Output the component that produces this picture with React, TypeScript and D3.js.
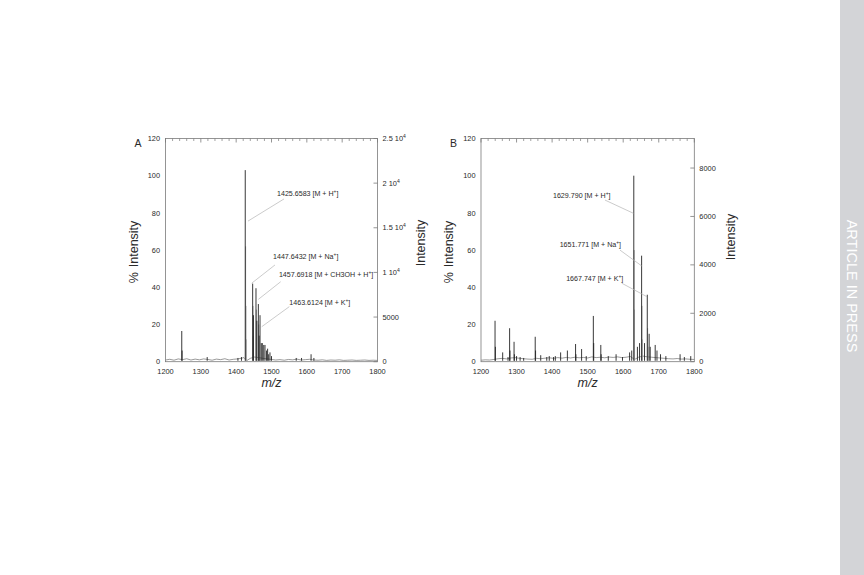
import React from 'react';
import * as d3 from 'd3';

// ---------- data ----------
const xTicks = [1200, 1300, 1400, 1500, 1600, 1700, 1800];
const pctTicks = [0, 20, 40, 60, 80, 100, 120];

const rightTicksA = [0, 5000, 10000, 15000, 20000, 25000];
const rightLabelA = ['0', '5000', '1 10', '1.5 10', '2 10', '2.5 10'];
const rightSupA = ['', '', '4', '4', '4', '4'];
const rightMaxA = 25000;

const rightTicksB = [0, 2000, 4000, 6000, 8000];
const rightLabelB = ['0', '2000', '4000', '6000', '8000'];
const rightMaxB = 9220;

// Panel A spectrum (m/z, % intensity)
const peakMzA = [1246, 1247, 1318, 1405, 1415, 1425.7, 1446.7, 1449, 1456.1, 1458.5, 1462.8, 1465, 1467.5, 1471, 1474, 1478, 1481.6, 1486, 1489, 1492, 1495.7, 1500, 1570, 1585, 1612, 1620];
const peakPctA = [16.5, 6, 2.5, 2, 2.5, 103, 42, 25, 39.5, 22, 31, 14, 25, 10, 10, 9, 9, 6, 7, 4, 5, 3, 2, 2, 4, 2];
const isoMzA = [1426.7, 1427.7, 1428.7, 1447.7, 1448.7, 1457.2, 1463.8];
const isoPctA = [62, 30, 12, 30, 14, 28, 20];
const noiseMzA = [1200, 1212, 1224, 1236, 1248, 1260, 1272, 1284, 1296, 1308, 1320, 1332, 1344, 1356, 1368, 1380, 1392, 1404, 1416, 1422, 1430, 1440, 1452, 1464, 1476, 1488, 1500, 1512, 1524, 1536, 1548, 1560, 1572, 1584, 1596, 1608, 1620, 1632, 1644, 1656, 1668, 1680, 1692, 1704, 1716, 1728, 1740, 1752, 1764, 1776, 1788, 1800];
const noisePctA = [0.9, 1.3, 0.8, 1.5, 1.1, 1.6, 0.9, 1.4, 1.0, 1.5, 1.2, 0.8, 1.4, 1.1, 1.6, 0.9, 1.3, 1.5, 1.9, 2.2, 0.6, 1.8, 2.5, 2.2, 1.8, 1.5, 1.2, 0.9, 1.1, 0.8, 1.2, 1.0, 1.4, 0.9, 1.1, 1.3, 0.9, 0.8, 1.0, 0.7, 0.9, 0.8, 1.0, 0.7, 0.8, 0.9, 0.7, 0.8, 0.9, 0.7, 0.8, 0.7];

// Panel B spectrum
const peakMzB = [1239.5, 1240.5, 1261, 1276, 1280.5, 1281.5, 1293, 1294, 1300, 1310, 1320, 1352.5, 1353.5, 1368, 1385, 1392, 1404, 1409, 1424, 1443, 1466, 1467, 1483, 1496, 1516, 1517, 1537, 1538, 1558, 1580, 1598, 1618, 1624, 1629.8, 1640, 1646, 1651.8, 1660, 1667.7, 1673, 1676, 1690, 1695, 1705, 1720, 1760, 1772, 1790];
const peakPctB = [22, 8, 5, 2.5, 18, 6, 10.7, 4, 3, 2.5, 2, 13.4, 6, 3.5, 2.5, 3, 2.5, 3, 5, 6, 9.5, 4, 6.8, 3, 24.6, 10, 9, 4, 3, 4, 2.5, 5, 6, 100, 8, 10, 57, 10, 36, 15, 8, 9, 6, 4, 3, 4, 2.5, 3];
const isoMzB = [1630.8, 1631.8, 1652.8, 1653.8, 1668.7, 1669.7];
const isoPctB = [60, 28, 30, 12, 18, 8];
const noiseMzB = [1200, 1212, 1224, 1236, 1248, 1260, 1272, 1284, 1296, 1308, 1320, 1332, 1344, 1356, 1368, 1380, 1392, 1404, 1416, 1428, 1440, 1452, 1464, 1476, 1488, 1500, 1512, 1524, 1536, 1548, 1560, 1572, 1584, 1596, 1608, 1620, 1632, 1644, 1656, 1668, 1680, 1692, 1704, 1716, 1728, 1740, 1752, 1764, 1776, 1788, 1800];
const noisePctB = [0.8, 1.0, 0.9, 1.2, 1.6, 1.8, 1.5, 2.0, 2.2, 1.8, 1.6, 1.4, 1.3, 1.8, 1.6, 1.9, 2.1, 1.8, 2.2, 1.9, 2.3, 2.0, 2.4, 2.1, 2.3, 2.0, 2.6, 2.2, 2.4, 2.1, 2.5, 2.3, 2.6, 2.2, 2.4, 2.8, 1.2, 2.5, 3.0, 2.6, 2.4, 2.2, 2.0, 1.8, 1.6, 1.5, 1.7, 1.4, 1.5, 1.3, 1.2];

// Annotations: label text anchor (m/z, %), leader from (m/z, %) to (m/z, %)
const annTextA = ['1425.6583 [M + H', '1447.6432 [M + Na', '1457.6918 [M + CH3OH + H', '1463.6124 [M + K'];
const annTxtMzA = [1515.6, 1504.3, 1521, 1550.4];
const annTxtPctA = [89, 55.2, 45.5, 30.6];
const annFromMzA = [1433.5, 1444, 1462.7, 1472.3];
const annFromPctA = [75.6, 42.2, 33.5, 18.8];
const annToMzA = [1535.4, 1509.8, 1526, 1550.4];
const annToPctA = [87.5, 52, 43, 29.6];

const annTextB = ['1629.790 [M + H', '1651.771 [M + Na', '1667.747 [M + K'];
const annTxtMzB = [1402.5, 1594, 1600];
const annTxtPctB = [88, 61.7, 43.4];
const annFromMzB = [1548.8, 1591, 1596];
const annFromPctB = [86.9, 60, 42.2];
const annToMzB = [1628.6, 1652, 1666.3];
const annToPctB = [79.8, 51.5, 35];

const FONT = '"Liberation Sans", Arial, Helvetica, sans-serif';

type PanelProps = {
  left: number; right: number; top: number; bottom: number;
  letter: string;
  peakMz: number[]; peakPct: number[];
  isoMz: number[]; isoPct: number[];
  noiseMz: number[]; noisePct: number[];
  rTicks: number[]; rLabels: string[]; rSups: string[]; rMax: number;
  annText: string[]; annTxtMz: number[]; annTxtPct: number[]; annAnchorEnd?: boolean[];
  annFromMz: number[]; annFromPct: number[]; annToMz: number[]; annToPct: number[];
  leftTitleY: number; rightTitleY: number; rightTitleX: number; leftTitleX: number;
};

function Panel(p: PanelProps) {
  const x = d3.scaleLinear().domain([1200, 1800]).range([p.left, p.right]);
  const y = d3.scaleLinear().domain([0, 120]).range([p.bottom, p.top]);
  const yr = d3.scaleLinear().domain([0, p.rMax]).range([p.bottom, p.top]);
  const minor = d3.range(1200, 1801, 20).filter((v) => v % 100 !== 0);
  const axisColor = '#7a7a7a';
  const textColor = '#2a2a2a';
  const noiseLine = d3.line<number>().x((d, i) => x(p.noiseMz[i])).y((d) => y(d));
  const midX = (p.left + p.right) / 2;
  return (
    <g>
      <path d={noiseLine(p.noisePct) || ''} fill="none" stroke="#555" strokeWidth={0.6} />
      {p.isoMz.map((m, i) => (
        <line key={'i' + i} x1={x(m)} x2={x(m)} y1={y(0.5)} y2={y(p.isoPct[i])} stroke="#9a9a9a" strokeWidth={0.9} />
      ))}
      {p.peakMz.map((m, i) => (
        <line key={'p' + i} x1={x(m)} x2={x(m)} y1={y(0.5)} y2={y(p.peakPct[i])} stroke="#222" strokeWidth={0.9} />
      ))}
      <rect x={p.left} y={p.top} width={p.right - p.left} height={p.bottom - p.top} fill="none" stroke={axisColor} strokeWidth={0.8} />
      {xTicks.map((t) => (
        <line key={'tt' + t} x1={x(t)} x2={x(t)} y1={p.top} y2={p.top + 4} stroke={axisColor} strokeWidth={0.8} />
      ))}
      {minor.map((t) => (
        <line key={'tm' + t} x1={x(t)} x2={x(t)} y1={p.top} y2={p.top + 2.5} stroke={axisColor} strokeWidth={0.7} />
      ))}
      {xTicks.map((t) => (
        <text key={'bl' + t} x={x(t)} y={p.bottom + 12.5} fontSize={7.4} textAnchor="middle" fill={textColor} fontFamily={FONT}>{t}</text>
      ))}
      {pctTicks.map((t) => (
        <text key={'ll' + t} x={p.left - 5.5} y={y(t) + 2.6} fontSize={7.4} textAnchor="end" fill={textColor} fontFamily={FONT}>{t}</text>
      ))}
      {p.rTicks.map((t, i) => (
        <g key={'r' + t}>
          <line x1={p.right - 4} x2={p.right} y1={yr(t)} y2={yr(t)} stroke={axisColor} strokeWidth={0.8} />
          <text x={p.right + 5} y={yr(t) + 2.6} fontSize={7.4} fill={textColor} fontFamily={FONT}>
            {p.rLabels[i]}
            {p.rSups[i] ? <tspan dy={-3.2} fontSize={5}>{p.rSups[i]}</tspan> : null}
          </text>
        </g>
      ))}
      <text x={p.left - 31} y={p.top + 8} fontSize={10.5} fill={textColor} fontFamily={FONT}>{p.letter}</text>
      <text transform={`translate(${p.leftTitleX},${p.leftTitleY}) rotate(-90)`} fontSize={12.5} textAnchor="middle" fill={textColor} fontFamily={FONT}>
        %<tspan dx={5}>Intensity</tspan>
      </text>
      <text transform={`translate(${p.rightTitleX},${p.rightTitleY}) rotate(-90)`} fontSize={12.5} textAnchor="middle" fill={textColor} fontFamily={FONT}>Intensity</text>
      <text x={midX} y={p.bottom + 25} fontSize={12.5} fontStyle="italic" textAnchor="middle" fill={textColor} fontFamily={FONT}>m/z</text>
      {p.annText.map((t, i) => (
        <g key={'a' + i}>
          <line x1={x(p.annFromMz[i])} y1={y(p.annFromPct[i])} x2={x(p.annToMz[i])} y2={y(p.annToPct[i])} stroke="#b5b5b5" strokeWidth={0.7} />
          <text x={x(p.annTxtMz[i])} y={y(p.annTxtPct[i])} fontSize={7.1} fill={textColor} fontFamily={FONT} textAnchor={p.annAnchorEnd && p.annAnchorEnd[i] ? 'end' : 'start'}>
            {t}
            <tspan dy={-2.8} fontSize={4.8}>+</tspan>
            <tspan dy={2.8}>]</tspan>
          </text>
        </g>
      ))}
    </g>
  );
}

export default function App() {
  return (
    <svg width={864} height={575} style={{ position: 'absolute', left: 0, top: 0, background: '#fff' }}>
      <rect x={0} y={0} width={864} height={575} fill="#fff" />
      <Panel
        left={165.5} right={377.5} top={138.5} bottom={361.7} letter="A"
        peakMz={peakMzA} peakPct={peakPctA} isoMz={isoMzA} isoPct={isoPctA}
        noiseMz={noiseMzA} noisePct={noisePctA}
        rTicks={rightTicksA} rLabels={rightLabelA} rSups={rightSupA} rMax={rightMaxA}
        annText={annTextA} annTxtMz={annTxtMzA} annTxtPct={annTxtPctA}
        annFromMz={annFromMzA} annFromPct={annFromPctA} annToMz={annToMzA} annToPct={annToPctA}
        leftTitleX={137.5} leftTitleY={252} rightTitleX={425} rightTitleY={243}
      />
      <Panel
        left={481} right={694.3} top={138.5} bottom={361.7} letter="B"
        peakMz={peakMzB} peakPct={peakPctB} isoMz={isoMzB} isoPct={isoPctB}
        noiseMz={noiseMzB} noisePct={noisePctB}
        rTicks={rightTicksB} rLabels={rightLabelB} rSups={['', '', '', '', '']} rMax={rightMaxB}
        annText={annTextB} annTxtMz={annTxtMzB} annTxtPct={annTxtPctB} annAnchorEnd={[false, true, true]}
        annFromMz={annFromMzB} annFromPct={annFromPctB} annToMz={annToMzB} annToPct={annToPctB}
        leftTitleX={453} leftTitleY={252} rightTitleX={735} rightTitleY={237}
      />
      <rect x={840} y={0} width={24} height={575} fill="#d3d4d7" />
      <text transform="translate(847,286) rotate(90)" fontSize={14.5} textAnchor="middle" fill="#ffffff" fontFamily={FONT}>ARTICLE IN PRESS</text>
    </svg>
  );
}
